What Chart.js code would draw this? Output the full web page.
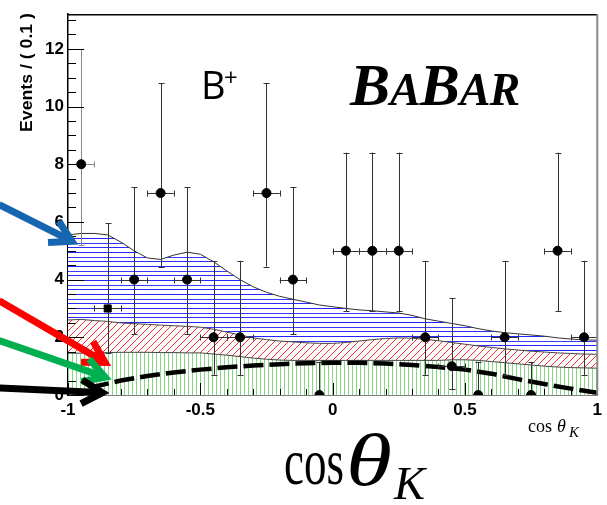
<!DOCTYPE html>
<html>
<head>
<meta charset="utf-8">
<script src="https://cdn.jsdelivr.net/npm/chart.js@4.4.1/dist/chart.umd.min.js"></script>
<style>
  html, body { margin: 0; padding: 0; background: #fff; }
  #wrap { width: 607px; height: 505px; }
</style>
</head>
<body>
<div id="wrap"><canvas id="angChart" width="607" height="505"></canvas></div>
<script>
// data points (bin centres, counts, asymmetric poisson error edges)
const binX = [-0.95, -0.85, -0.75, -0.65, -0.55, -0.45, -0.35, -0.25, -0.15, -0.05,
  0.05, 0.15, 0.25, 0.35, 0.45, 0.55, 0.65, 0.75, 0.85, 0.95];
const counts = [8, 3, 4, 7, 4, 2, 2, 7, 4, 0, 5, 5, 5, 2, 1, 0, 2, 0, 5, 2];
const errLow = [5.2, 1.45, 2.1, 4.45, 2.1, 0.7, 0.7, 4.45, 2.1, 0, 2.9, 2.9, 2.9, 0.7, 0.2, 0, 0.7, 0, 2.9, 0.7];
const errHigh = [12.0, 5.95, 7.2, 10.8, 7.2, 4.65, 4.65, 10.8, 7.2, 1.15, 8.4, 8.4, 8.4, 4.65, 3.35, 1.15, 4.65, 1.15, 8.4, 4.65];
const binHalf = 0.05;

// stacked fit components
const fitX = [-1, -0.95, -0.9, -0.85, -0.8, -0.75, -0.7, -0.65, -0.6, -0.55, -0.5, -0.45, -0.4, -0.35,
  -0.3, -0.25, -0.2, -0.15, -0.1, -0.05, 0, 0.05, 0.1, 0.15, 0.2, 0.25, 0.3, 0.35, 0.4, 0.45, 0.5,
  0.55, 0.6, 0.65, 0.7, 0.75, 0.8, 0.85, 0.9, 0.95, 1];
const greenTop = [1.45, 1.45, 1.46, 1.47, 1.48, 1.48, 1.48, 1.47, 1.47, 1.46, 1.46, 1.42, 1.38, 1.33,
  1.28, 1.24, 1.21, 1.2, 1.2, 1.2, 1.2, 1.2, 1.2, 1.2, 1.2, 1.2, 1.2, 1.2, 1.2, 1.22, 1.22,
  1.2, 1.16, 1.12, 1.08, 1.04, 1.0, 0.97, 0.95, 0.94, 0.93];
const redTop = [2.6, 2.62, 2.58, 2.55, 2.5, 2.47, 2.45, 2.42, 2.4, 2.38, 2.35, 2.28, 2.18, 2.08,
  1.98, 1.92, 1.87, 1.84, 1.81, 1.79, 1.79, 1.82, 1.87, 1.92, 1.96, 1.98, 1.97, 1.93, 1.88, 1.82, 1.76,
  1.7, 1.65, 1.6, 1.56, 1.52, 1.49, 1.46, 1.44, 1.42, 1.41];
const blueTop = [5.55, 5.6, 5.6, 5.55, 5.3, 5.0, 4.75, 4.7, 4.85, 4.95, 4.88, 4.62, 4.3, 4.0,
  3.75, 3.56, 3.42, 3.32, 3.22, 3.12, 3.06, 3.0, 2.95, 2.92, 2.88, 2.84, 2.76, 2.64, 2.56, 2.48, 2.4,
  2.3, 2.22, 2.16, 2.12, 2.08, 2.04, 1.98, 1.94, 1.91, 1.9];

// signal shape (dashed)
const sigX = [-0.92, -0.8, -0.7, -0.6, -0.5, -0.4, -0.3, -0.2, -0.1, 0, 0.1, 0.2, 0.3, 0.4, 0.5, 0.6, 0.7, 0.8, 0.9, 1.0];
const sigY = [0.25, 0.5, 0.66, 0.78, 0.88, 0.96, 1.02, 1.07, 1.1, 1.12, 1.12, 1.09, 1.04, 0.97, 0.88, 0.74, 0.55, 0.38, 0.22, 0.08];

// axes
const xTicks = [-1, -0.5, 0, 0.5, 1];
const yTicks = [0, 2, 4, 6, 8, 10, 12];
const yMax = 13.2;

// annotation arrows, in data units
const arrows = [
  { color: '#1565b0', from: [-1.26, 6.6], to: [-0.985, 5.33] },
  { color: '#ff0000', from: [-1.26, 3.27], to: [-0.86, 1.13] },
  { color: '#00b050', from: [-1.26, 1.89], to: [-0.86, 0.62] },
  { color: '#000000', from: [-1.26, 0.24], to: [-0.87, 0.08] },
];

function makePattern(w, h, draw) {
  const c = document.createElement('canvas');
  c.width = w; c.height = h;
  const g = c.getContext('2d');
  g.fillStyle = '#fff';
  g.fillRect(0, 0, w, h);
  draw(g);
  return g.createPattern(c, 'repeat');
}

// draw text squeezed/stretched to a given width
function fitText(c, text, font, x, y, w) {
  c.save();
  c.font = font;
  c.textAlign = 'left';
  const m = c.measureText(text).width;
  c.translate(x, y);
  c.scale(w / m, 1);
  c.fillText(text, 0, 0);
  c.restore();
}

const ctx = document.getElementById('angChart').getContext('2d');

const greenFill = makePattern(4, 4, g => { g.fillStyle = '#86d886'; g.fillRect(0, 0, 1, 4); });
const redFill = makePattern(7, 7, g => {
  g.strokeStyle = '#ff2e2e'; g.lineWidth = 1;
  g.beginPath(); g.moveTo(-1, 8); g.lineTo(8, -1); g.stroke();
});
const blueFill = makePattern(4, 14, g => {
  g.fillStyle = '#2424ff'; g.fillRect(0, 0, 4, 1);
  g.fillStyle = '#3a3aff'; g.fillRect(0, 5, 4, 1);
  g.fillStyle = '#2a2aff'; g.fillRect(0, 9, 4, 1);
});

const toXY = (xs, ys) => xs.map((x, i) => ({ x: x, y: ys[i] }));

const boldFont = { family: 'Liberation Sans, Arial, sans-serif', size: 17, weight: 'bold' };

const rootFrame = {
  id: 'rootFrame',
  beforeDatasetDraw(chart, args) {
    if (args.index !== 0) return;
    // error bars under the markers
    const xs = chart.scales.x, ys = chart.scales.y, c = chart.ctx;
    c.save();
    c.lineWidth = 1;
    binX.forEach((bx, i) => {
      const px = Math.round(xs.getPixelForValue(bx)) + 0.5;
      const pyLo = ys.getPixelForValue(errLow[i]);
      const pyHi = ys.getPixelForValue(errHigh[i]);
      const py = ys.getPixelForValue(counts[i]);
      c.strokeStyle = i === 0 ? '#888' : '#333';
      c.beginPath();
      c.moveTo(px, pyLo); c.lineTo(px, pyHi);
      c.moveTo(px - 3, Math.round(pyHi) + 0.5); c.lineTo(px + 3, Math.round(pyHi) + 0.5);
      if (counts[i] > 0) {
        c.moveTo(px - 3, Math.round(pyLo) + 0.5); c.lineTo(px + 3, Math.round(pyLo) + 0.5);
        const pl = xs.getPixelForValue(bx - binHalf), pr = xs.getPixelForValue(bx + binHalf);
        const yy = Math.round(py) + 0.5;
        c.moveTo(pl, yy); c.lineTo(pr, yy);
        c.moveTo(Math.round(pl) + 0.5, yy - 3); c.lineTo(Math.round(pl) + 0.5, yy + 3);
        c.moveTo(Math.round(pr) + 0.5, yy - 3); c.lineTo(Math.round(pr) + 0.5, yy + 3);
      }
      c.stroke();
    });
    c.restore();
  },
  afterDatasetsDraw(chart) {
    const xs = chart.scales.x, ys = chart.scales.y, c = chart.ctx;
    const a = chart.chartArea;
    c.save();
    c.strokeStyle = '#000';
    c.lineWidth = 1;
    c.beginPath();
    // inward y ticks
    for (let v = 0; v <= yMax; v += 0.5) {
      const py = Math.round(ys.getPixelForValue(v)) + 0.5;
      const len = yTicks.includes(v) ? 16 : 8;
      c.moveTo(a.left, py); c.lineTo(a.left + len, py);
    }
    // inward x ticks
    for (let k = -10; k <= 10; k++) {
      const px = Math.round(xs.getPixelForValue(k / 10)) + 0.5;
      const len = k % 5 === 0 ? 12 : 6;
      c.moveTo(px, a.bottom); c.lineTo(px, a.bottom - len);
    }
    c.stroke();
    // frame top and right
    c.lineWidth = 1.5;
    c.beginPath(); c.moveTo(a.left, a.top + 0.5); c.lineTo(a.right, a.top + 0.5); c.stroke();
    c.strokeStyle = '#8a8a8a';
    c.lineWidth = 2;
    c.beginPath(); c.moveTo(a.right, a.top); c.lineTo(a.right, a.bottom); c.stroke();
    c.restore();
  },
  afterDraw(chart) {
    const xs = chart.scales.x, ys = chart.scales.y, c = chart.ctx;
    c.save();
    // arrows
    arrows.forEach(ar => {
      const x0 = xs.getPixelForValue(ar.from[0]), y0 = ys.getPixelForValue(ar.from[1]);
      const x1 = xs.getPixelForValue(ar.to[0]), y1 = ys.getPixelForValue(ar.to[1]);
      const ang = Math.atan2(y1 - y0, x1 - x0);
      c.strokeStyle = ar.color;
      c.lineWidth = 7;
      c.lineCap = 'butt';
      c.lineJoin = 'miter';
      c.beginPath(); c.moveTo(x0, y0); c.lineTo(x1 - 3 * Math.cos(ang), y1 - 3 * Math.sin(ang)); c.stroke();
      const L = 24, da = 0.52;
      c.beginPath();
      c.moveTo(x1 - L * Math.cos(ang - da), y1 - L * Math.sin(ang - da));
      c.lineTo(x1, y1);
      c.lineTo(x1 - L * Math.cos(ang + da), y1 - L * Math.sin(ang + da));
      c.stroke();
    });

    // y axis title, top-aligned along the axis
    c.fillStyle = '#000';
    c.save();
    c.translate(32, 13);
    c.rotate(-Math.PI / 2);
    fitText(c, 'Events / ( 0.1 )', 'bold 17px "Liberation Sans", Arial, sans-serif', -119, 0, 119);
    c.restore();

    // B+ label
    c.textAlign = 'left';
    c.font = '38px "Open Sans", sans-serif';
    c.fillText('B', 201, 99);
    c.font = '24px "Open Sans", sans-serif';
    c.fillText('+', 224, 86);

    // BaBar logo
    let bx = 350;
    [['B', 60], ['A', 46], ['B', 60], ['A', 46], ['R', 46]].forEach(([ch, sz]) => {
      c.font = 'italic bold ' + sz + 'px "Liberation Serif", "DejaVu Serif", serif';
      c.fillText(ch, bx, 105);
      bx += c.measureText(ch).width + (ch === 'A' ? -1 : 0);
    });

    // small axis title
    c.font = '18px "Liberation Serif", serif';
    c.fillText('cos', 528, 432);
    c.font = 'italic 18px "Liberation Serif", serif';
    c.fillText('\u03b8', 557, 432);
    c.font = 'italic 15px "Liberation Serif", serif';
    c.fillText('K', 569, 437);

    // big axis title
    fitText(c, 'cos', '66px "Liberation Serif", serif', 284, 484, 60);
    fitText(c, '\u03b8', 'italic 74px "Liberation Serif", serif', 346, 485, 46);
    fitText(c, 'K', 'italic 46px "Liberation Serif", serif', 394, 499, 31);
    c.restore();
  }
};

new Chart(ctx, {
  type: 'scatter',
  data: {
    datasets: [
      {
        label: 'data',
        data: toXY(binX, counts),
        backgroundColor: '#000',
        borderColor: '#000',
        pointRadius: counts.map((v, i) => i === 1 ? 5 : 4.5),
        pointStyle: counts.map((v, i) => i === 1 ? 'rect' : 'circle'),
        order: 0,
      },
      {
        label: 'signal',
        type: 'line',
        data: toXY(sigX, sigY),
        borderColor: '#000',
        borderWidth: 4.5,
        borderDash: [20, 6],
        pointRadius: 0,
        fill: false,
        order: 1,
      },
      {
        label: 'green',
        type: 'line',
        data: toXY(fitX, greenTop),
        borderColor: '#444',
        borderWidth: 1,
        backgroundColor: greenFill,
        pointRadius: 0,
        fill: 'origin',
        order: 2,
      },
      {
        label: 'red',
        type: 'line',
        data: toXY(fitX, redTop),
        borderColor: '#444',
        borderWidth: 1,
        backgroundColor: redFill,
        pointRadius: 0,
        fill: '-1',
        order: 3,
      },
      {
        label: 'blue',
        type: 'line',
        data: toXY(fitX, blueTop),
        borderColor: '#333',
        borderWidth: 1,
        backgroundColor: blueFill,
        pointRadius: 0,
        fill: '-1',
        order: 4,
      },
    ],
  },
  options: {
    responsive: false,
    animation: false,
    events: [],
    layout: { padding: { left: 0, top: 11, right: 9, bottom: 0 } },
    plugins: {
      legend: { display: false },
      tooltip: { enabled: false },
      title: { display: false },
    },
    scales: {
      x: {
        type: 'linear',
        min: -1,
        max: 1,
        afterBuildTicks: s => { s.ticks = xTicks.map(v => ({ value: v })); },
        afterFit: s => { s.height = 110; },
        ticks: { font: boldFont, color: '#000', padding: 5, maxRotation: 0, callback: v => String(v) },
        grid: { display: false, drawTicks: false },
        border: { display: true, color: '#000', width: 1.5 },
      },
      y: {
        type: 'linear',
        min: 0,
        max: yMax,
        afterBuildTicks: s => { s.ticks = yTicks.map(v => ({ value: v })); },
        afterFit: s => { s.width = 68; },
        ticks: { font: boldFont, color: '#000', padding: 4, callback: v => String(v) },
        grid: { display: false, drawTicks: false },
        border: { display: true, color: '#000', width: 1.5 },
      },
    },
  },
  plugins: [rootFrame],
});
</script>
</body>
</html>
